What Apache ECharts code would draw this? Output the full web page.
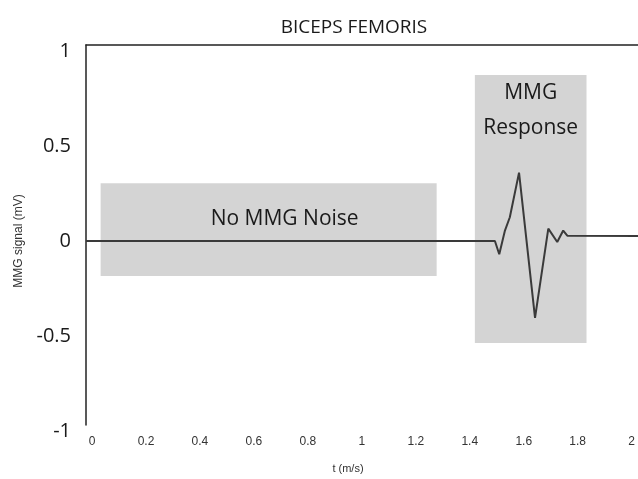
<!DOCTYPE html>
<html>
<head>
<meta charset="utf-8">
<style>html,body{margin:0;padding:0;background:#fff}#c{width:638px;height:479px}</style>
<script src="https://cdn.jsdelivr.net/npm/echarts@6/dist/echarts.min.js"></script>
</head>
<body>
<div id="c"></div>
<script>
// time (s) and MMG signal (mV)
var timeValues = [-0.022, 1.487, 1.503, 1.524, 1.542, 1.576, 1.635, 1.684, 1.717, 1.739, 1.754, 2.015];
var signalValues = [0, 0, -0.07, 0.055, 0.125, 0.36, -0.405, 0.065, -0.005, 0.055, 0.028, 0.026];
// shaded regions: [xStart, xEnd], [yBottom, yTop]
var regionNames = ['No MMG Noise', 'MMG\nResponse'];
var regionX = [[0.032, 1.272], [1.413, 1.825]];
var regionY = [[-0.184, 0.304], [-0.537, 0.874]];
var xTickLabels = ['0', '0.2', '0.4', '0.6', '0.8', '1', '1.2', '1.4', '1.6', '1.8', '2'];
var yTickLabels = ['-1', '-0.5', '0', '0.5', '1'];

var lineData = timeValues.map(function (t, i) { return [t, signalValues[i]]; });

var chart = echarts.init(document.getElementById('c'), null, {renderer: 'canvas'});
chart.setOption({
  animation: false,
  backgroundColor: '#fff',
  title: [
    {text: 'BICEPS FEMORIS', left: 349, top: 13, textAlign: 'center',
     textStyle: {fontFamily: 'Open Sans', fontSize: 19, fontWeight: 'normal', color: '#1a1a1a'}},
    {text: 't (m/s)', left: 343, top: 458, textAlign: 'center',
     textStyle: {fontFamily: 'Liberation Sans', fontSize: 11, fontWeight: 'normal', color: '#333'}}
  ],
  grid: [
    {left: 86, top: 45, right: 0, bottom: 54},
    {left: 92, top: 51, right: 4, bottom: 48}
  ],
  xAxis: [
    {gridIndex: 0, type: 'value', min: -0.022, max: 2.015, position: 'top',
     axisLine: {show: true, onZero: false, lineStyle: {color: '#222', width: 1.5}},
     axisTick: {show: false}, axisLabel: {show: false}, splitLine: {show: false}},
    {gridIndex: 1, type: 'value', min: 0, max: 2, interval: 0.2,
     axisLine: {show: false}, axisTick: {show: false}, splitLine: {show: false},
     axisLabel: {margin: 5, fontFamily: 'Liberation Sans', fontSize: 12, color: '#333',
       formatter: function (v) { return xTickLabels[Math.round(v / 0.2)]; }}}
  ],
  yAxis: [
    {gridIndex: 0, type: 'value', min: -0.9684, max: 1.0316, position: 'left',
     axisLine: {show: true, onZero: false, lineStyle: {color: '#222', width: 1.5}},
     axisTick: {show: false}, axisLabel: {show: false}, splitLine: {show: false}},
    {gridIndex: 1, type: 'value', min: -1, max: 1, interval: 0.5,
     name: 'MMG signal (mV)', nameLocation: 'middle', nameGap: 67, nameRotate: 90,
     nameTextStyle: {fontFamily: 'Liberation Sans', fontSize: 12, color: '#333'},
     axisLine: {show: false}, axisTick: {show: false}, splitLine: {show: false},
     axisLabel: {margin: 21, fontFamily: 'Open Sans', fontSize: 20, color: '#1a1a1a',
       formatter: function (v) { return yTickLabels[Math.round((v + 1) / 0.5)]; }}}
  ],
  series: [
    {type: 'line', xAxisIndex: 0, yAxisIndex: 0, data: [], z: 1, silent: true,
     markArea: {silent: true, itemStyle: {color: '#d4d4d4'},
       data: [
         [{xAxis: regionX[0][0], yAxis: regionY[0][1], name: regionNames[0],
           label: {position: 'insideTop', offset: [16, 18], distance: 0}},
          {xAxis: regionX[0][1], yAxis: regionY[0][0]}],
         [{xAxis: regionX[1][0], yAxis: regionY[1][1], name: regionNames[1],
           label: {position: 'insideTop', distance: 1, lineHeight: 35}},
          {xAxis: regionX[1][1], yAxis: regionY[1][0]}]
       ],
       label: {show: true, fontFamily: 'Open Sans', fontSize: 21, color: '#1a1a1a', lineHeight: 35}}},
    {type: 'line', xAxisIndex: 0, yAxisIndex: 0, data: lineData, z: 3,
     symbol: 'none', lineStyle: {color: '#3a3a3a', width: 2}}
  ]
});
</script>
</body>
</html>
